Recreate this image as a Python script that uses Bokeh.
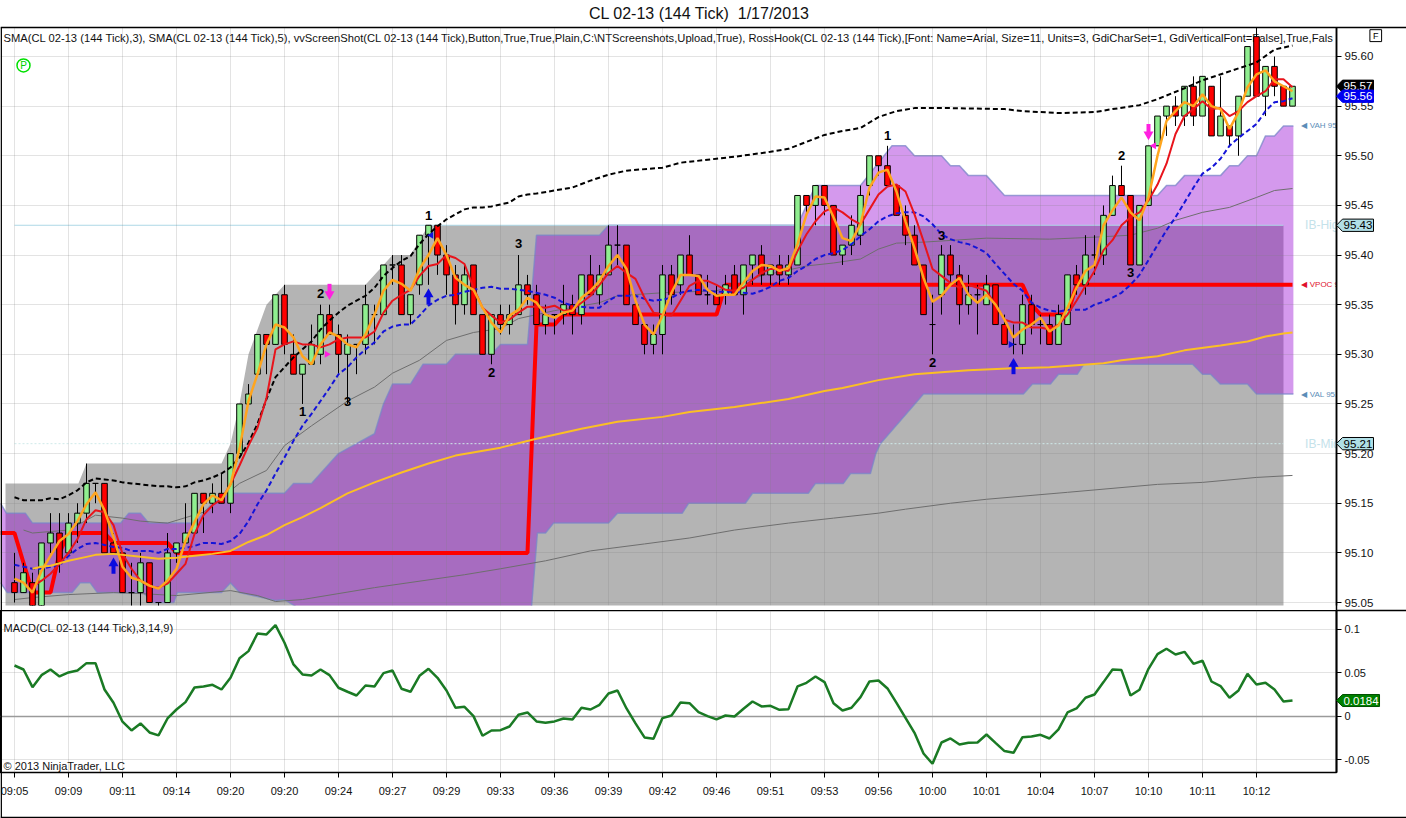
from bokeh.plotting import figure
from bokeh.layouts import column, row
from bokeh.models import Range1d, FixedTicker, NumeralTickFormatter, ColumnDataSource
from bokeh.core.properties import value
from bokeh.embed import file_html
from bokeh.resources import INLINE
import numpy as np

FONT = "Liberation Sans"

tick_labels = ["09:05","09:09","09:11","09:14","09:20","09:20","09:24","09:27","09:29","09:33","09:36","09:39",
               "09:42","09:46","09:51","09:53","09:56","10:00","10:01","10:04","10:07","10:10","10:11","10:12"]

opens = [95.07,95.06,95.07,95.04,95.11,95.12,95.10,95.13,95.14,95.17,
 95.17,95.11,95.10,95.06,95.06,95.09,95.05,95.05,95.10,95.11,
 95.12,95.16,95.15,95.16,95.15,95.20,95.25,95.28,95.32,95.31,
 95.36,95.30,95.28,95.29,95.30,95.34,95.32,95.30,95.31,95.31,
 95.34,95.34,95.39,95.39,95.34,95.37,95.42,95.43,95.40,95.38,
 95.35,95.39,95.34,95.30,95.34,95.33,95.34,95.37,95.36,95.33,
 95.34,95.34,95.35,95.34,95.38,95.36,95.38,95.41,95.41,95.35,
 95.33,95.31,95.32,95.38,95.37,95.40,95.38,95.36,95.36,95.36,
 95.38,95.36,95.39,95.40,95.38,95.39,95.38,95.39,95.46,95.45,
 95.47,95.45,95.40,95.41,95.42,95.47,95.50,95.49,95.47,95.44,
 95.42,95.39,95.33,95.36,95.40,95.38,95.35,95.36,95.35,95.37,
 95.33,95.31,95.31,95.35,95.33,95.33,95.31,95.33,95.38,95.37,
 95.40,95.40,95.44,95.47,95.46,95.39,95.45,95.51,95.54,95.55,
 95.54,95.57,95.54,95.57,95.52,95.53,95.52,95.56,95.62,95.56,
 95.59,95.57,95.55]
closes = [95.06,95.08,95.04,95.11,95.12,95.09,95.13,95.14,95.17,95.17,
 95.10,95.10,95.06,95.06,95.09,95.05,95.05,95.10,95.11,95.12,
 95.16,95.15,95.16,95.15,95.20,95.25,95.26,95.32,95.31,95.36,
 95.31,95.28,95.29,95.31,95.34,95.32,95.30,95.31,95.31,95.35,
 95.34,95.39,95.39,95.34,95.36,95.42,95.43,95.40,95.38,95.35,
 95.38,95.34,95.30,95.34,95.33,95.34,95.37,95.36,95.33,95.34,
 95.34,95.35,95.34,95.38,95.36,95.38,95.41,95.41,95.35,95.33,
 95.31,95.32,95.38,95.36,95.40,95.38,95.36,95.36,95.35,95.37,
 95.36,95.39,95.40,95.38,95.39,95.38,95.39,95.46,95.45,95.47,
 95.45,95.40,95.41,95.43,95.46,95.50,95.49,95.47,95.44,95.42,
 95.39,95.34,95.33,95.40,95.38,95.35,95.36,95.36,95.37,95.33,
 95.31,95.31,95.35,95.33,95.33,95.31,95.34,95.38,95.37,95.40,
 95.40,95.44,95.47,95.46,95.39,95.45,95.51,95.54,95.55,95.54,
 95.57,95.54,95.58,95.52,95.54,95.52,95.56,95.61,95.56,95.59,
 95.57,95.55,95.57]
highs = [95.10,95.09,95.08,95.11,95.14,95.14,95.14,95.15,95.19,95.17,
 95.17,95.12,95.10,95.09,95.10,95.09,95.05,95.12,95.11,95.15,
 95.16,95.16,95.17,95.18,95.20,95.25,95.27,95.32,95.32,95.36,
 95.37,95.32,95.29,95.33,95.35,95.35,95.33,95.32,95.31,95.37,
 95.35,95.39,95.40,95.40,95.36,95.42,95.43,95.43,95.41,95.39,
 95.39,95.39,95.34,95.34,95.35,95.35,95.40,95.38,95.37,95.35,
 95.34,95.37,95.36,95.38,95.40,95.39,95.43,95.43,95.41,95.36,
 95.33,95.33,95.39,95.39,95.40,95.42,95.38,95.38,95.37,95.38,
 95.39,95.39,95.40,95.41,95.39,95.40,95.40,95.46,95.46,95.47,
 95.47,95.45,95.41,95.44,95.47,95.50,95.50,95.51,95.47,95.45,
 95.43,95.39,95.36,95.41,95.41,95.39,95.38,95.37,95.38,95.37,
 95.34,95.33,95.36,95.36,95.34,95.34,95.35,95.38,95.39,95.42,
 95.42,95.45,95.48,95.49,95.46,95.45,95.51,95.54,95.55,95.56,
 95.57,95.58,95.58,95.57,95.58,95.53,95.56,95.61,95.63,95.59,
 95.60,95.57,95.57]
lows = [95.05,95.06,95.04,95.04,95.10,95.08,95.10,95.11,95.13,95.15,
 95.10,95.10,95.06,95.04,95.04,95.05,95.04,95.05,95.09,95.11,
 95.12,95.12,95.14,95.15,95.14,95.20,95.25,95.28,95.28,95.31,
 95.30,95.28,95.25,95.29,95.29,95.32,95.28,95.25,95.28,95.30,
 95.31,95.34,95.37,95.34,95.33,95.36,95.37,95.38,95.36,95.33,
 95.34,95.34,95.30,95.29,95.32,95.32,95.34,95.35,95.33,95.32,
 95.32,95.33,95.32,95.33,95.36,95.35,95.38,95.39,95.35,95.33,
 95.30,95.30,95.30,95.35,95.36,95.38,95.36,95.35,95.35,95.35,
 95.36,95.34,95.37,95.37,95.37,95.37,95.37,95.39,95.44,95.43,
 95.44,95.40,95.39,95.40,95.41,95.46,95.48,95.47,95.44,95.41,
 95.39,95.34,95.30,95.34,95.37,95.33,95.34,95.32,95.35,95.33,
 95.31,95.30,95.30,95.32,95.31,95.31,95.31,95.33,95.36,95.36,
 95.38,95.39,95.44,95.46,95.39,95.39,95.45,95.51,95.52,95.53,
 95.53,95.53,95.54,95.52,95.52,95.51,95.50,95.56,95.56,95.54,
 95.56,95.55,95.55]

sma3 = [95.074,95.07,95.06,95.082,95.097,95.112,95.119,95.132,95.149,95.161,
 95.143,95.116,95.086,95.075,95.072,95.067,95.064,95.072,95.084,95.112,
 95.131,95.149,95.158,95.153,95.169,95.205,95.253,95.28,95.31,95.33,
 95.327,95.317,95.298,95.29,95.31,95.322,95.318,95.31,95.307,95.32,
 95.34,95.364,95.375,95.371,95.364,95.386,95.40,95.417,95.40,95.377,
 95.37,95.365,95.347,95.332,95.322,95.339,95.345,95.357,95.352,95.34,
 95.337,95.342,95.344,95.357,95.364,95.374,95.389,95.40,95.386,95.354,
 95.33,95.32,95.339,95.362,95.38,95.38,95.379,95.365,95.359,95.36,
 95.36,95.372,95.384,95.39,95.389,95.384,95.387,95.411,95.441,95.459,
 95.458,95.438,95.417,95.414,95.431,95.468,95.483,95.486,95.464,95.434,
 95.407,95.377,95.353,95.359,95.37,95.377,95.36,95.352,95.36,95.35,
 95.335,95.317,95.325,95.33,95.337,95.323,95.329,95.347,95.367,95.384,
 95.39,95.43,95.445,95.458,95.443,95.435,95.458,95.50,95.535,95.545,
 95.554,95.55,95.562,95.55,95.547,95.527,95.544,95.569,95.582,95.586,
 95.575,95.57,95.565]
sma5_first_bar = 2
sma5 = [95.066,95.072,95.079,95.089,95.10,95.114,95.134,95.143,
 95.141,95.128,95.099,95.084,95.072,95.066,95.065,95.069,95.079,95.089,
 95.119,95.138,95.148,95.154,95.169,95.188,95.208,95.226,95.256,95.305,
 95.31,95.313,95.31,95.31,95.307,95.31,95.315,95.317,95.317,95.317,
 95.323,95.342,95.354,95.36,95.365,95.379,95.389,95.391,95.40,95.397,
 95.391,95.367,95.347,95.339,95.332,95.335,95.342,95.348,95.348,95.347,
 95.349,95.344,95.345,95.352,95.359,95.37,95.382,95.389,95.382,95.376,
 95.357,95.342,95.34,95.339,95.354,95.369,95.374,95.374,95.37,95.365,
 95.364,95.367,95.375,95.382,95.386,95.386,95.384,95.404,95.421,95.434,
 95.444,95.448,95.443,95.436,95.431,95.446,95.461,95.469,95.471,95.464,
 95.441,95.414,95.386,95.379,95.372,95.367,95.37,95.367,95.364,95.35,
 95.335,95.332,95.332,95.327,95.327,95.325,95.33,95.34,95.354,95.369,
 95.384,95.405,95.415,95.43,95.438,95.443,95.455,95.471,95.492,95.522,
 95.54,95.547,95.555,95.547,95.548,95.54,95.545,95.554,95.56,95.565,
 95.577,95.577,95.569]
blue_avg = [95.088,95.086,95.084,95.084,95.086,95.087,95.097,95.104,95.109,95.11,
 95.108,95.106,95.105,95.102,95.102,95.102,95.10,95.104,95.104,95.105,
 95.107,95.11,95.11,95.109,95.112,95.119,95.132,95.149,95.163,95.18,
 95.196,95.213,95.228,95.24,95.253,95.266,95.28,95.287,95.297,95.305,
 95.312,95.323,95.328,95.33,95.33,95.339,95.349,95.355,95.359,95.36,
 95.363,95.365,95.367,95.368,95.366,95.366,95.365,95.364,95.362,95.36,
 95.357,95.352,95.349,95.348,95.347,95.347,95.354,95.359,95.359,95.359,
 95.356,95.354,95.355,95.357,95.362,95.364,95.365,95.364,95.363,95.363,
 95.363,95.362,95.361,95.364,95.368,95.374,95.377,95.384,95.389,95.396,
 95.40,95.402,95.405,95.411,95.419,95.426,95.434,95.439,95.442,95.443,
 95.443,95.439,95.431,95.421,95.416,95.413,95.411,95.407,95.402,95.391,
 95.381,95.371,95.364,95.352,95.347,95.344,95.343,95.345,95.345,95.345,
 95.35,95.353,95.357,95.362,95.37,95.38,95.395,95.41,95.425,95.438,
 95.453,95.468,95.482,95.488,95.497,95.51,95.518,95.525,95.532,95.545,
 95.554,95.555,95.558]
upper_bars = list(range(56)) + [56,57,58,60,62,64,66,68,72,74,78,80,84,86,88,90,92,94,96,98,100,104,110,112,116,120,122,125,127,130,132,136,138,140,142]
upper_band = [95.156,95.153,95.153,95.153,95.155,95.154,95.158,95.163,95.171,95.175,
 95.174,95.173,95.171,95.17,95.169,95.168,95.167,95.167,95.166,95.167,
 95.171,95.173,95.176,95.18,95.186,95.196,95.211,95.23,95.255,95.277,
 95.287,95.297,95.305,95.313,95.325,95.334,95.342,95.349,95.354,95.359,
 95.367,95.379,95.387,95.394,95.399,95.411,95.421,95.429,95.436,95.441,
 95.446,95.448,95.448,95.449,95.451,95.453,
 95.459,95.461,95.462,95.465,95.468,95.475,95.481,95.485,95.488,95.493,95.497,95.499,95.504,95.507,
 95.514,95.521,95.525,95.528,95.539,95.545,95.548,95.548,95.547,95.545,95.543,95.544,95.547,95.551,
 95.557,95.568,95.576,95.588,95.594,95.607,95.611]
sma_long_bars = [2,3,4,6,8,9,11,14,16,18,20,22,24,26,28,30,32,34,37,40,43,46,49,54,58,60,63,67,72,75,80,86,90,92,96,100,106,111,115,121,123,127,130,134,137,139,141,142]
sma_long = [95.084,95.086,95.087,95.092,95.096,95.098,95.099,95.096,95.094,95.095,95.097,95.099,95.102,95.111,95.118,95.128,95.136,95.145,95.16,95.171,95.181,95.19,95.198,95.206,95.215,95.219,95.225,95.232,95.237,95.242,95.247,95.255,95.263,95.266,95.274,95.28,95.284,95.286,95.287,95.291,95.294,95.298,95.304,95.309,95.313,95.318,95.321,95.322]
thin_low_bars = [0,2,6,11,14,18,24,27,29,32,40,50,54,59,64,70,75,80,86,91,96,99,104,108,117,127,132,138,142]
thin_low = [95.053,95.055,95.058,95.06,95.059,95.057,95.062,95.057,95.051,95.053,95.065,95.078,95.084,95.092,95.102,95.109,95.115,95.123,95.13,95.135,95.14,95.144,95.15,95.154,95.161,95.169,95.171,95.176,95.178]
thin_mid_bars = [1,2,6,9,12,14,17,21,25,28,30,33,37,40,42,45,48,51,54,56,60,65,67,72,78,83,88,91,94,96,98,101,108,115,120,124,127,129,132,135,138,140,142]
thin_mid = [95.123,95.12,95.123,95.138,95.135,95.132,95.13,95.141,95.17,95.183,95.208,95.228,95.253,95.267,95.281,95.294,95.314,95.322,95.326,95.336,95.344,95.352,95.359,95.362,95.364,95.379,95.389,95.392,95.396,95.406,95.412,95.413,95.417,95.416,95.418,95.42,95.427,95.435,95.443,95.448,95.458,95.465,95.467]
vpoc_bars = [-1.56,0,2,4,5,6,10,11,17,18,57,58,60,61,78,79,112,113,114,117,118,142]
vpoc = [95.12,95.12,95.06,95.06,95.10,95.12,95.12,95.11,95.11,95.10,95.10,95.33,95.33,95.34,95.34,95.37,95.37,95.35,95.34,95.34,95.37,95.37]

gray_x = [-1,7.1,8,23,24,25,26,28,29,30,39,41,42,44,46,141,141,-1]
gray_y = [95.17,95.17,95.19,95.19,95.21,95.25,95.30,95.35,95.36,95.37,95.37,95.39,95.40,95.40,95.43,95.43,95.04,95.04]
purple_top_x = [-1.56,-0.9,1.2,2,11.8,12.7,14,14.9,20,22,24,30,31,33,35,36,38,40,41,42,44,45.4,48,49,53,54,57,57.1,58,65,66,87,88,89,94,97.5,99,100,103,104,105,106,108,110,127,128,129,130,134,135,136,137,138,139,140,141,142.1]
purple_top_y = [95.15,95.14,95.14,95.13,95.13,95.14,95.14,95.13,95.13,95.15,95.16,95.16,95.17,95.17,95.19,95.20,95.21,95.22,95.25,95.27,95.27,95.29,95.29,95.30,95.30,95.31,95.31,95.32,95.42,95.42,95.43,95.43,95.45,95.47,95.47,95.51,95.51,95.50,95.50,95.49,95.49,95.48,95.48,95.46,95.46,95.47,95.47,95.48,95.48,95.49,95.49,95.50,95.50,95.52,95.52,95.53,95.53]
purple_bot_x = [-1.56,-0.8,6.4,7.3,8.4,9.2,14.3,15.4,17.7,18.1,23,24,25,29,30,32.3,57.4,58.1,59,59.9,66,67,74.2,74.9,81.2,82,88.2,89,92.1,92.9,95.1,95.7,96.2,101,112.1,113.1,115.1,116,118.1,118.8,130.9,132,132.9,134,137,138,142.1]
purple_bot_y = [95.07,95.06,95.06,95.07,95.07,95.06,95.06,95.05,95.05,95.06,95.06,95.07,95.06,95.052,95.053,95.04,95.04,95.12,95.12,95.13,95.13,95.14,95.14,95.15,95.15,95.16,95.16,95.17,95.17,95.18,95.18,95.20,95.21,95.26,95.26,95.27,95.27,95.28,95.28,95.29,95.29,95.28,95.28,95.27,95.27,95.26,95.26]

swing_text = ["1","2","3","1","2","3","1","3","2","2","3"]
swing_bar = [32,34,37,46,53,56,97,103,102,123,124]
swing_price = [95.242,95.361,95.252,95.44,95.282,95.412,95.52,95.42,95.292,95.50,95.382]
up_bar, up_tip = [11,46,111], [95.094,95.365,95.295]
down_bar, down_tip = [35,126], [95.356,95.517]

price_ticks = [95.05,95.10,95.15,95.20,95.25,95.30,95.35,95.40,95.45,95.50,95.55,95.60]
macd_ticks = [-0.05,0,0.05,0.1]
macd = [.0586,.054,.0337,.0475,.054,.046,.0506,.0529,.0613,.0613,
 .031,.0157,-.006,-.016,-.008,-.0184,-.0218,-.0023,.008,.0165,
 .0333,.0345,.0364,.031,.0444,.067,.0751,.0954,.0943,.105,
 .0847,.0598,.0483,.0471,.054,.0475,.033,.0284,.0241,.0356,
 .0345,.0498,.0529,.0318,.0284,.0467,.0548,.0444,.0299,.01,
 .0111,.0004,-.0222,-.0161,-.0157,-.0115,.0019,.0046,-.0057,-.0073,
 -.0057,-.0023,-.0034,.01,.008,.0134,.0264,.0299,.0092,-.008,
 -.0241,-.0257,-.0019,.0011,.0161,.0153,.005,.0004,-.0034,.0011,
 0,.0088,.0172,.0115,.0123,.0077,.0084,.0345,.0387,.046,
 .0395,.0153,.0069,.01,.0222,.0402,.0414,.0322,.0157,-.0015,
 -.0188,-.0425,-.0544,-.0299,-.0253,-.0322,-.0303,-.0299,-.0207,-.0303,
 -.0398,-.0418,-.0238,-.023,-.0211,-.0253,-.0149,.0046,.0092,.0215,
 .0253,.0395,.054,.0533,.0241,.0307,.0548,.0716,.0778,.0713,
 .0743,.0605,.064,.0402,.0349,.0215,.0299,.049,.0368,.0387,
 .031,.0172,.0184]

chart_title = "CL 02-13 (144 Tick)\u00a0\u00a01/17/2013"
legend_text = ("SMA(CL 02-13 (144 Tick),3), SMA(CL 02-13 (144 Tick),5), vvScreenShot(CL 02-13 (144 Tick),Button,True,True,Plain,"
               "C:\\NTScreenshots,Upload,True), RossHook(CL 02-13 (144 Tick),[Font: Name=Arial, Size=11, Units=3, GdiCharSet=1, "
               "GdiVerticalFont=False],True,Fals")

bars = np.arange(len(opens))
o, c, h, l = map(np.array, (opens, closes, highs, lows))
x_left, x_axis_pos, x_right = -1.5556, 146.889, 154.667
x_range = Range1d(x_left, x_axis_pos)
time_ticks = list(range(0, 6 * len(tick_labels), 6))

p1 = figure(width=1406, height=610, x_range=x_range, y_range=Range1d(95.047, 95.6292),
            y_axis_location="right", toolbar_location=None, output_backend="svg",
            min_border_left=0, min_border_right=70, min_border_top=27, min_border_bottom=5)
p1.outline_line_color = None
p1.xaxis.visible = False
p1.xgrid[0].ticker = FixedTicker(ticks=time_ticks)
p1.ygrid[0].ticker = FixedTicker(ticks=price_ticks)
for g in (p1.xgrid[0], p1.ygrid[0]):
    g.grid_line_color = "#808080"
    g.grid_line_alpha = 0.22
    g.grid_line_width = 1
    g.level = "underlay"
ax = p1.yaxis[0]
ax.ticker = FixedTicker(ticks=price_ticks)
ax.formatter = NumeralTickFormatter(format="0.00")
ax.major_label_text_font = FONT
ax.major_label_text_font_size = "11.5px"
ax.major_label_text_color = "#111111"
ax.major_tick_in = 0
ax.major_tick_out = 5
ax.minor_tick_out = 0
ax.minor_tick_in = 0
ax.major_label_standoff = 3
ax.axis_line_color = "black"
ax.axis_line_width = 1.5
ax.major_tick_line_color = "black"

# profile bands
p1.patch(gray_x, gray_y, fill_color="#b4b4b4", line_color=None, level="image")
pur_x = purple_top_x + purple_bot_x[::-1]
pur_y = purple_top_y + purple_bot_y[::-1]
p1.patch(pur_x, pur_y, fill_color="#9400d3", fill_alpha=0.4, line_color=None, level="image")
p1.line(purple_top_x, purple_top_y, line_color="#7a86c8", line_width=1.5, line_alpha=0.75, level="image")
p1.line(purple_bot_x, purple_bot_y, line_color="#7a86c8", line_width=1.5, line_alpha=0.75, level="image")

# IB lines
p1.line([0, 141], [95.43, 95.43], line_color="#add8e6", line_width=1, level="underlay")
p1.line([0, 141], [95.21, 95.21], line_color="#cfeaea", line_width=1, line_dash="2 2", level="underlay")

# indicator lines under candles
p1.line(thin_low_bars, thin_low, line_color="#6e6e6e", line_width=1)
p1.line(thin_mid_bars, thin_mid, line_color="#6e6e6e", line_width=1)
p1.line(vpoc_bars, vpoc, line_color="#ff0000", line_width=4)

# candles
body_colors = ["#ff0000" if a > b else "#90ee90" for a, b in zip(opens, closes)]
src = ColumnDataSource(dict(x=bars, top=np.maximum(o, c), bottom=np.minimum(o, c), high=h, low=l, color=body_colors))
p1.segment("x", "high", "x", "low", source=src, line_color="black", line_width=1)
p1.vbar("x", width=0.62, top="top", bottom="bottom", source=src, fill_color="color", line_color="black", line_width=1)

# overlay lines
p1.line(upper_bars, upper_band, line_color="black", line_width=2, line_dash="5 3")
p1.line(bars, blue_avg, line_color="#1414d8", line_width=2, line_dash="5 3")
p1.line(bars[sma5_first_bar:], sma5, line_color="#e8141c", line_width=2)
p1.line(bars, sma3, line_color="#ffa51e", line_width=2.5)
p1.line(sma_long_bars, sma_long, line_color="#fbbf24", line_width=2)

# arrows
up_tip_a, down_tip_a = np.array(up_tip), np.array(down_tip)
p1.segment(up_bar, up_tip_a - 0.006, up_bar, up_tip_a - 0.015, line_color="#0a0ae0", line_width=4)
p1.scatter(up_bar, up_tip_a - 0.0045, marker="triangle", size=10, fill_color="#0a0ae0", line_color=None)
p1.segment(down_bar, down_tip_a + 0.006, down_bar, down_tip_a + 0.015, line_color="#ff20e0", line_width=4)
p1.scatter(down_bar, down_tip_a + 0.0045, marker="inverted_triangle", size=10, fill_color="#ff20e0", line_color=None)
p1.scatter([34.7, 110.7], [95.30, 95.31], marker="triangle", angle=-np.pi / 2, size=7,
           fill_color=["#ff20e0", "#1414d8"], line_color=None)
p1.scatter([46.3, 126.6], [95.42, 95.51], marker="triangle", angle=np.pi / 2, size=7,
           fill_color=["#1414d8", "#ff20e0"], line_color=None)

# swing numbers
p1.text(swing_bar, swing_price, text=swing_text, text_font=value(FONT), text_font_style="bold",
        text_font_size="13px", text_color="black", text_align="center", text_baseline="middle")

# header text and profile labels
p1.text([-1.22], [95.619], text=[legend_text], text_font=value(FONT), text_font_size="11.2px",
        text_color="#111111", text_baseline="middle", level="underlay")
p1.scatter([1], [95.591], marker="circle", size=13, fill_color=None, line_color="#00e000", line_width=1.5)
p1.text([1], [95.591], text=["P"], text_font=value(FONT), text_font_size="10px", text_color="#00d000",
        text_align="center", text_baseline="middle")
p1.text([143.4, 143.4], [95.43, 95.21], text=["IB-High", "IB-Mid"], text_font=value(FONT), text_font_size="12px",
        text_color="#c4e2ea", text_baseline="middle")
p1.text([143.0, 143.0], [95.53, 95.26], text=["\u25c0 VAH 95.53", "\u25c0 VAL 95.26"], text_font=value(FONT),
        text_font_size="8px", text_color="#5b8db8", text_baseline="middle")
p1.text([143.0], [95.37], text=["\u25c0 VPOC 95.37"], text_font=value(FONT), text_font_size="8px",
        text_color="#e0102c", text_baseline="middle")

# MACD panel
p2 = figure(width=1406, height=208, x_range=x_range, y_range=Range1d(-0.0644, 0.1218),
            y_axis_location="right", toolbar_location=None, output_backend="svg",
            min_border_left=0, min_border_right=70, min_border_top=0, min_border_bottom=46)
p2.outline_line_color = "black"
p2.outline_line_width = 1.5
xa = p2.xaxis[0]
xa.ticker = FixedTicker(ticks=time_ticks)
xa.major_label_overrides = {t: s for t, s in zip(time_ticks, tick_labels)}
xa.major_label_text_font = FONT
xa.major_label_text_font_size = "11px"
xa.major_label_text_color = "#111111"
xa.major_tick_in = 0
xa.major_tick_out = 5
xa.minor_tick_out = 0
xa.minor_tick_in = 0
xa.major_label_standoff = 7
xa.axis_line_color = "black"
xa.major_tick_line_color = "black"
ya = p2.yaxis[0]
ya.ticker = FixedTicker(ticks=macd_ticks)
ya.major_label_overrides = {-0.05: "-0.05", 0: "0", 0.05: "0.05", 0.1: "0.1"}
ya.major_label_text_font = FONT
ya.major_label_text_font_size = "11px"
ya.major_label_text_color = "#111111"
ya.major_tick_in = 0
ya.major_tick_out = 5
ya.minor_tick_out = 0
ya.minor_tick_in = 0
ya.major_label_standoff = 3
ya.axis_line_color = "black"
ya.axis_line_width = 1.5
ya.major_tick_line_color = "black"
p2.xgrid[0].ticker = FixedTicker(ticks=time_ticks)
p2.ygrid[0].ticker = FixedTicker(ticks=macd_ticks)
for g in (p2.xgrid[0], p2.ygrid[0]):
    g.grid_line_color = "#808080"
    g.grid_line_alpha = 0.22
    g.grid_line_width = 1
p2.line([x_left, x_axis_pos], [0, 0], line_color="#9a9a9a", line_width=1.5)
p2.line(bars, macd, line_color="#1a7a24", line_width=2.5)
p2.text([-1.22], [0.1015], text=["MACD(CL 02-13 (144 Tick),3,14,9)"], text_font=value(FONT), text_font_size="11px",
        text_color="#111111", text_baseline="middle")
p2.text([-1.22], [-0.0575], text=["\u00a9 2013 NinjaTrader, LLC"], text_font=value(FONT), text_font_size="11px",
        text_color="#111111", text_baseline="middle")

# transparent sheet over the two panels: title, rules, price tags
sheet = figure(width=1406, height=818, x_range=Range1d(x_left, x_right), y_range=Range1d(94.8324, 95.6564),
               x_axis_location=None, y_axis_location=None, toolbar_location=None, output_backend="svg",
               min_border=0)
sheet.extra_y_ranges = {"macd": Range1d(-0.1172, 0.823)}
sheet.outline_line_color = None
sheet.background_fill_alpha = 0
sheet.border_fill_alpha = 0
sheet.grid.visible = False

sheet.text([76.1], [95.643], text=[chart_title], text_font=value(FONT), text_font_size="16px",
           text_color="#111111", text_align="center", text_baseline="middle")
y_top_rule, y_gap_rule, y_macd_axis, y_bottom_rule = 95.6292, 95.0419, 94.8788, 94.8334
sheet.line([x_left + 0.08, x_left + 0.08], [y_top_rule, y_bottom_rule], line_color="black", line_width=1.5)
sheet.line([x_left, x_right], [y_top_rule, y_top_rule], line_color="black", line_width=1.5)
sheet.line([x_axis_pos, x_right], [y_gap_rule, y_gap_rule], line_color="black", line_width=1.5)
sheet.line([x_left, x_right], [y_bottom_rule, y_bottom_rule], line_color="black", line_width=1.5)
sheet.line([x_axis_pos, x_axis_pos], [y_top_rule, y_macd_axis], line_color="black", line_width=1.5)

# F button
sheet.quad(left=[150.6], right=[151.9], top=[95.627], bottom=[95.615], fill_color="white", line_color="black", line_width=1)
sheet.text([151.25], [95.621], text=["F"], text_font=value(FONT), text_font_size="9px", text_color="black",
           text_align="center", text_baseline="middle")


def tag(val, half, x_end, fill, line, text, text_color, **kw):
    shoulder = x_axis_pos + 0.67
    sheet.patch([x_axis_pos, shoulder, x_end, x_end, shoulder],
                [val, val + half, val + half, val - half, val - half],
                fill_color=fill, line_color=line, line_width=1, **kw)
    sheet.text([(shoulder + x_end) / 2], [val], text=[text], text_font=value(FONT), text_font_size="11.5px",
               text_color=text_color, text_align="center", text_baseline="middle", **kw)


tag(95.57, 0.0062, 151.0, "black", "black", "95.57", "white")
tag(95.56, 0.0062, 151.0, "#0000f0", "#0000f0", "95.56", "white")
tag(95.43, 0.0062, 151.0, "#b0dfe6", "black", "95.43", "black")
tag(95.21, 0.0062, 151.0, "#b0dfe6", "black", "95.21", "black")
tag(macd[-1], 0.0069, 151.67, "#008000", "#005000", "0.0184", "white", y_range_name="macd")

panels = column(p1, p2, spacing=0)
top_sheet = row(sheet, margin=(-818, 0, 0, 0))
page = column(panels, top_sheet, spacing=0)
open("out.html", "w").write(file_html(page, INLINE))
